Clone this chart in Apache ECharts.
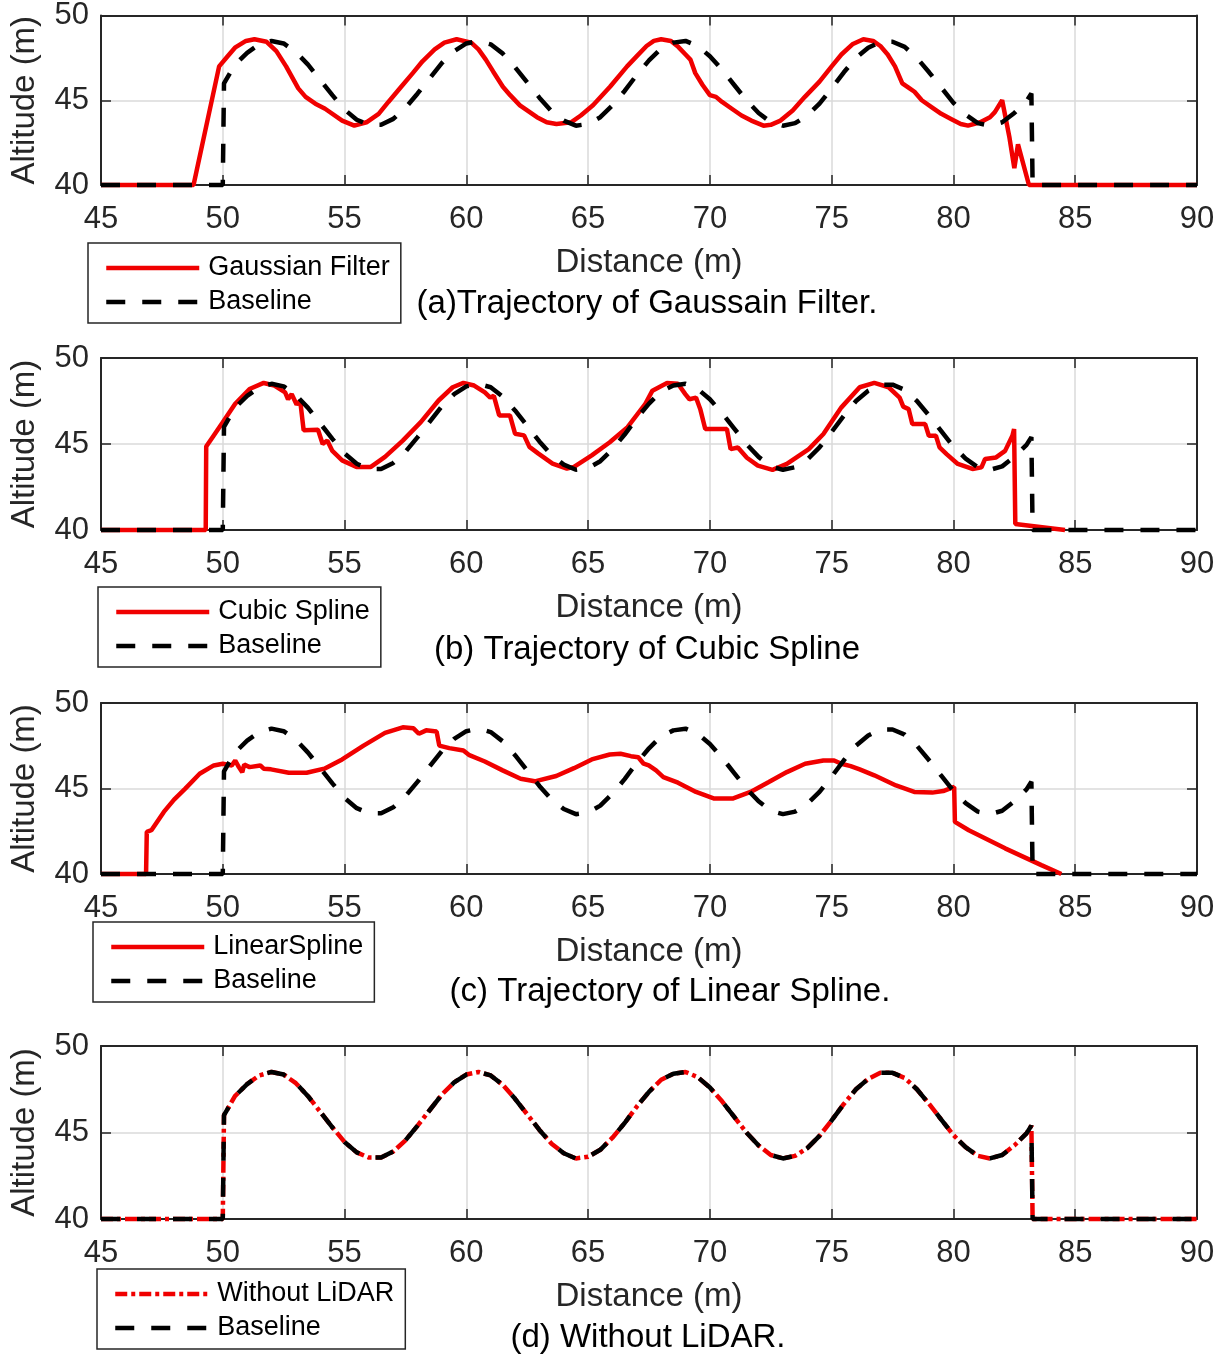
<!DOCTYPE html>
<html>
<head>
<meta charset="utf-8">
<script src="https://cdn.jsdelivr.net/npm/echarts@6/dist/echarts.min.js"></script>
<style>
  html, body { margin: 0; padding: 0; background: #ffffff; }
  #chart { width: 1223px; height: 1356px; }
</style>
</head>
<body>
<div id="chart"></div>
<script>
// Axis ticks
const distanceTicks = [45, 50, 55, 60, 65, 70, 75, 80, 85, 90];
const altitudeTicks = [40, 45, 50];

// Reference flight path [distance (m), altitude (m)]
const baseline = [[45,40],[50,40],[50.05,46.0],[50.5,47.1],[51,47.8],[51.5,48.3],[52,48.5],[52.5,48.35],[53,47.85],[53.5,47.1],[54,46.2],[54.5,45.3],[55,44.45],[55.5,43.85],[56,43.55],[56.5,43.55],[57,43.9],[57.5,44.55],[58,45.4],[58.5,46.3],[59,47.2],[59.5,47.9],[60,48.35],[60.5,48.5],[61,48.3],[61.5,47.75],[62,46.95],[62.5,46.05],[63,45.15],[63.5,44.35],[64,43.8],[64.5,43.5],[65,43.6],[65.5,44.0],[66,44.7],[66.5,45.55],[67,46.5],[67.5,47.35],[68,48.05],[68.5,48.4],[69,48.5],[69.5,48.2],[70,47.6],[70.5,46.8],[71,45.9],[71.5,45.0],[72,44.25],[72.5,43.7],[73,43.5],[73.5,43.65],[74,44.1],[74.5,44.8],[75,45.7],[75.5,46.65],[76,47.5],[76.5,48.1],[77,48.45],[77.5,48.45],[78,48.15],[78.5,47.5],[79,46.65],[79.5,45.75],[80,44.85],[80.5,44.15],[81,43.65],[81.5,43.5],[82,43.7],[82.5,44.25],[83,44.95],[83.2,45.4],[83.25,40],[90,40]];

// Gaussian-filtered trajectory
const gaussianFilter = [[45,40],[48.8,40],[49.85,47.0],[50.2,47.6],[50.5,48.1],[50.95,48.5],[51.3,48.6],[51.8,48.45],[52.2,47.9],[52.6,47.0],[53.1,45.7],[53.4,45.2],[53.8,44.8],[54.2,44.5],[54.9,43.8],[55.4,43.5],[55.9,43.7],[56.4,44.2],[56.8,44.9],[57.3,45.75],[57.8,46.6],[58.2,47.3],[58.7,48.0],[59.1,48.4],[59.6,48.6],[60.2,48.4],[60.5,48.0],[60.8,47.4],[61.1,46.7],[61.5,45.8],[61.8,45.3],[62.2,44.7],[62.9,44.0],[63.3,43.7],[63.7,43.6],[64.3,43.7],[64.7,44.1],[65.2,44.7],[65.9,45.8],[66.6,47.0],[67.0,47.6],[67.4,48.2],[67.7,48.5],[68.0,48.6],[68.4,48.5],[68.7,48.15],[69.0,47.7],[69.2,47.4],[69.4,46.6],[69.7,45.9],[70.0,45.3],[70.25,45.2],[70.5,44.9],[70.9,44.5],[71.3,44.1],[71.7,43.8],[72.2,43.5],[72.5,43.55],[72.9,43.8],[73.4,44.4],[73.9,45.2],[74.5,46.1],[75.0,47.0],[75.4,47.7],[75.85,48.3],[76.3,48.6],[76.7,48.5],[77.0,48.2],[77.3,47.7],[77.6,47.0],[77.9,46.0],[78.2,45.7],[78.4,45.5],[78.7,45.0],[79.1,44.6],[79.5,44.2],[79.9,43.9],[80.3,43.6],[80.6,43.5],[81.1,43.7],[81.5,44.0],[81.7,44.3],[82.0,45.0],[82.3,42.8],[82.5,41.0],[82.65,42.4],[83.1,40.0],[90,40]];

// Cubic-spline trajectory
const cubicSpline = [[45,40],[49.3,40],[49.32,44.85],[49.63,45.5],[50.0,46.27],[50.51,47.34],[51.1,48.2],[51.68,48.55],[52.12,48.4],[52.56,48.0],[52.68,47.6],[52.83,47.9],[53.03,47.3],[53.18,47.5],[53.32,45.8],[53.91,45.83],[54.1,45.0],[54.29,45.2],[54.5,44.6],[54.9,44.05],[55.49,43.67],[56.08,43.67],[56.66,44.25],[57.39,45.2],[58.13,46.27],[58.86,47.53],[59.44,48.3],[59.88,48.55],[60.32,48.4],[60.76,48.0],[60.98,47.7],[61.13,47.8],[61.35,46.66],[61.79,46.66],[62.0,45.6],[62.37,45.5],[62.59,44.83],[62.96,44.44],[63.54,43.86],[64.13,43.57],[64.42,43.67],[65.15,44.34],[65.89,45.1],[66.62,45.98],[67.35,47.34],[67.64,48.1],[68.24,48.55],[68.69,48.5],[68.99,47.9],[69.16,47.6],[69.43,47.7],[69.61,47.0],[69.81,45.87],[70.7,45.87],[70.85,44.7],[71.15,44.8],[71.52,44.2],[71.97,43.74],[72.57,43.5],[73.16,43.84],[74.06,44.7],[74.66,45.58],[75.4,47.13],[76.15,48.3],[76.75,48.55],[77.34,48.3],[77.79,47.7],[77.94,47.17],[78.16,47.03],[78.31,46.16],[78.84,46.16],[78.99,45.48],[79.28,45.48],[79.43,44.8],[79.73,44.4],[80.18,43.84],[80.78,43.55],[81.15,43.64],[81.3,44.13],[81.75,44.22],[82.12,44.6],[82.42,45.48],[82.49,45.87],[82.54,40.35],[84.58,40.0]];

// Linear-spline trajectory
const linearSpline = [[45,40],[46.85,40],[46.88,42.47],[47.07,42.56],[47.58,43.63],[48.0,44.35],[48.46,44.99],[49.05,45.86],[49.63,46.35],[50.0,46.45],[50.37,46.35],[50.51,46.64],[50.66,46.25],[50.8,45.95],[50.88,46.4],[51.1,46.25],[51.54,46.35],[51.68,46.16],[51.98,46.12],[52.71,45.92],[53.44,45.92],[54.17,46.16],[54.9,46.7],[55.78,47.51],[56.66,48.25],[57.39,48.58],[57.83,48.52],[58.05,48.2],[58.35,48.4],[58.78,48.33],[58.89,47.51],[59.3,47.36],[59.88,47.22],[60.1,46.97],[60.76,46.58],[61.49,46.06],[62.23,45.57],[62.81,45.42],[63.69,45.73],[64.42,46.19],[65.15,46.7],[65.89,46.99],[66.33,47.03],[66.76,46.89],[67.06,46.83],[67.28,46.45],[67.49,46.35],[67.79,46.06],[68.09,45.67],[68.69,45.34],[69.43,44.8],[70.18,44.41],[70.93,44.41],[71.67,44.8],[72.42,45.38],[73.16,45.96],[73.91,46.45],[74.66,46.64],[75.1,46.64],[75.4,46.45],[75.78,46.31],[76.15,46.12],[76.75,45.77],[77.64,45.18],[78.39,44.8],[79.13,44.76],[79.58,44.85],[80.03,45.09],[80.06,43.05],[80.63,42.56],[82.12,41.5],[83.61,40.52],[84.43,40.0]];

// Without LiDAR the aircraft follows the reference path exactly
const withoutLidar = baseline;

const FONT = "'Liberation Sans', Arial, Helvetica, sans-serif";
const INK = '#262626';
const RED = '#f00000';

// Layout of the four stacked panels
const panels = [
  { name: 'Gaussian Filter', data: gaussianFilter, red: 'solid',
    top: 15, height: 170, caption: '(a)Trajectory of Gaussain Filter.', capX: 647, capY: 304,
    legLeft: 88, legTop: 243 },
  { name: 'Cubic Spline', data: cubicSpline, red: 'solid',
    top: 358, height: 172, caption: '(b) Trajectory of Cubic Spline', capX: 647, capY: 650,
    legLeft: 98, legTop: 587 },
  { name: 'LinearSpline', data: linearSpline, red: 'solid',
    top: 703, height: 171, caption: '(c) Trajectory of Linear Spline.', capX: 670, capY: 992,
    legLeft: 93, legTop: 922 },
  { name: 'Without LiDAR', data: withoutLidar, red: 'dashdot',
    top: 1046, height: 173, caption: '(d) Without LiDAR.', capX: 648, capY: 1338,
    legLeft: 97, legTop: 1269 }
];

const xMin = distanceTicks[0], xMax = distanceTicks[distanceTicks.length - 1];
const xStep = distanceTicks[1] - distanceTicks[0];
const yMin = altitudeTicks[0], yMax = altitudeTicks[altitudeTicks.length - 1];
const yStep = altitudeTicks[1] - altitudeTicks[0];

const axisLine = { show: true, onZero: false, lineStyle: { color: INK, width: 2 } };
const tickIn = { show: true, inside: true, length: 10, lineStyle: { color: INK, width: 1.5 } };
const gridLine = { show: true, lineStyle: { color: '#dadada', width: 1.5 } };

const grid = [], xAxis = [], yAxis = [], series = [], legend = [], title = [];

panels.forEach((p, i) => {
  grid.push({ left: 97, width: 1100, top: p.top, height: p.height, containLabel: false });

  // bottom axis with labels, top axis closes the frame
  xAxis.push({
    type: 'value', gridIndex: i, position: 'bottom', min: xMin, max: xMax, interval: xStep,
    axisLine, axisTick: tickIn, splitLine: gridLine,
    axisLabel: { fontSize: 31, color: INK, fontFamily: FONT, margin: 19 },
    name: 'Distance (m)', nameLocation: 'middle', nameGap: 61,
    nameTextStyle: { fontSize: 33, color: INK, fontFamily: FONT }
  });
  xAxis.push({
    type: 'value', gridIndex: i, position: 'top', min: xMin, max: xMax, interval: xStep,
    axisLine, axisTick: tickIn, splitLine: { show: false }, axisLabel: { show: false }
  });
  yAxis.push({
    type: 'value', gridIndex: i, position: 'left', min: yMin, max: yMax, interval: yStep,
    axisLine, axisTick: tickIn, splitLine: gridLine,
    axisLabel: { fontSize: 31, color: INK, fontFamily: FONT, margin: 12 },
    name: 'Altitude (m)', nameLocation: 'middle', nameRotate: 90, nameGap: 60,
    nameTextStyle: { fontSize: 33, color: INK, fontFamily: FONT }
  });
  yAxis.push({
    type: 'value', gridIndex: i, position: 'right', min: yMin, max: yMax, interval: yStep,
    axisLine, axisTick: tickIn, splitLine: { show: false }, axisLabel: { show: false }
  });

  const redStyle = p.red === 'solid'
    ? { color: RED, width: 4.5, type: 'solid' }
    : { color: RED, width: 4.5, type: [12, 4, 4, 4] };

  series.push({
    type: 'line', name: p.name, xAxisIndex: 2 * i, yAxisIndex: 2 * i,
    data: p.data, symbol: 'none', showSymbol: false, lineStyle: redStyle,
    itemStyle: { color: RED }, clip: false, z: 3
  });
  series.push({
    type: 'line', name: 'Baseline', xAxisIndex: 2 * i, yAxisIndex: 2 * i,
    data: baseline, symbol: 'none', showSymbol: false,
    lineStyle: { color: '#000000', width: 4.5, type: [19, 17] },
    itemStyle: { color: '#000000' }, clip: false, z: 4
  });

  legend.push({
    data: [p.name, 'Baseline'], orient: 'vertical', left: p.legLeft, top: p.legTop,
    padding: [10, 11, 6, 16], itemWidth: 93, itemHeight: 14, itemGap: 4,
    borderColor: INK, borderWidth: 1.5, borderRadius: 0, backgroundColor: '#ffffff',
    selectedMode: false, lineStyle: { width: 4.5 }, itemStyle: { opacity: 0 },
    textStyle: { fontSize: 27, lineHeight: 30, color: '#000000', fontFamily: FONT, padding: [0, 0, 0, 4] }
  });

  title.push({
    text: p.caption, left: p.capX, top: p.capY, textAlign: 'center', textVerticalAlign: 'middle',
    padding: 0,
    textStyle: { fontSize: 33, fontWeight: 'normal', color: '#000000', fontFamily: FONT }
  });
});

const chart = echarts.init(document.getElementById('chart'), null, { renderer: 'canvas' });
chart.setOption({
  animation: false,
  backgroundColor: '#ffffff',
  title, grid, xAxis, yAxis, series, legend
});
</script>
</body>
</html>
